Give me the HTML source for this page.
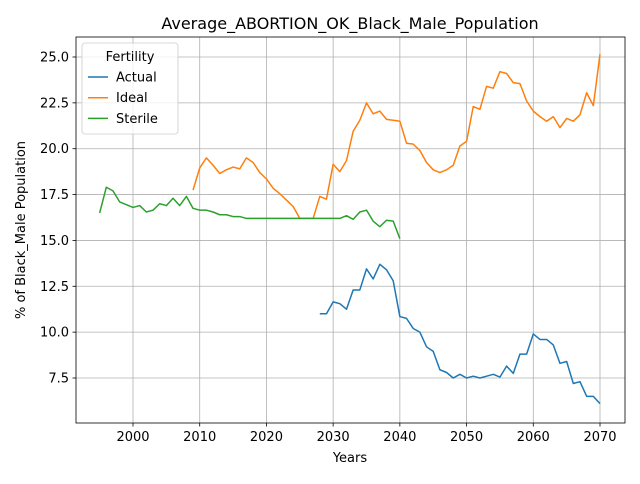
<!DOCTYPE html>
<html><head><meta charset="utf-8"><style>
body{margin:0;background:#fff;font-family:"DejaVu Sans","Liberation Sans",sans-serif}
</style></head><body>
<svg id="c" width="640" height="480" xmlns="http://www.w3.org/2000/svg" font-family="DejaVu Sans, Liberation Sans, sans-serif">
<rect width="640" height="480" fill="#fff"/>
<g id="grid"></g><g id="series"></g><g id="axes"></g>
</svg>
<script>
const xTicks=[2000,2010,2020,2030,2040,2050,2060,2070];
const yTicks=[7.5,10.0,12.5,15.0,17.5,20.0,22.5,25.0];
const actualStart=2028;
const actualValues=[11.0,11.0,11.65,11.55,11.25,12.3,12.3,13.45,12.9,13.7,13.4,12.8,10.85,10.75,10.2,10.0,9.2,8.95,7.95,7.8,7.5,7.7,7.5,7.6,7.5,7.6,7.7,7.55,8.15,7.75,8.8,8.8,9.9,9.6,9.6,9.3,8.3,8.4,7.2,7.3,6.5,6.5,6.1];
const idealStart=2009;
const idealValues=[17.75,18.95,19.5,19.1,18.65,18.85,19.0,18.9,19.5,19.25,18.7,18.35,17.85,17.55,17.2,16.85,16.2,16.2,16.2,17.4,17.25,19.15,18.75,19.35,20.95,21.55,22.5,21.9,22.05,21.6,21.55,21.5,20.3,20.25,19.9,19.25,18.85,18.7,18.85,19.1,20.15,20.4,22.3,22.15,23.4,23.3,24.2,24.1,23.6,23.55,22.6,22.05,21.75,21.5,21.75,21.15,21.65,21.5,21.85,23.05,22.35,25.15];
const sterileStart=1995;
const sterileValues=[16.5,17.9,17.7,17.1,16.95,16.8,16.9,16.55,16.65,17.0,16.9,17.3,16.9,17.4,16.75,16.65,16.65,16.55,16.4,16.4,16.3,16.3,16.2,16.2,16.2,16.2,16.2,16.2,16.2,16.2,16.2,16.2,16.2,16.2,16.2,16.2,16.2,16.35,16.15,16.55,16.65,16.05,15.75,16.1,16.05,15.1];
const L=76,R=625,T=37,B=423;
const x=v=>133+(v-2000)*(600-133)/70;
const y=v=>57+(25-v)*(378-57)/17.5;
const NS="http://www.w3.org/2000/svg";
function mk(p,t,a){const e=document.createElementNS(NS,t);for(const k in a)e.setAttribute(k,a[k]);p.appendChild(e);return e;}
const g=document.getElementById('grid'),s=document.getElementById('series'),ax=document.getElementById('axes');
xTicks.forEach(t=>{
 const l=mk(g,'line',{x1:x(t),x2:x(t),y1:T,y2:B,stroke:'#b0b0b0','stroke-width':0.8});
 
 
 mk(ax,'line',{x1:x(t),x2:x(t),y1:B,y2:B+3.5,stroke:'#000','stroke-width':0.8});
 const tx=mk(ax,'text',{x:x(t),y:B+18,'font-size':13,'text-anchor':'middle'});tx.textContent=t;
 
 
});
yTicks.forEach(t=>{
 const l=mk(g,'line',{x1:L,x2:R,y1:y(t),y2:y(t),stroke:'#b0b0b0','stroke-width':0.8});
 
 
 mk(ax,'line',{x1:L-3.5,x2:L,y1:y(t),y2:y(t),stroke:'#000','stroke-width':0.8});
 const tx=mk(ax,'text',{x:L-7,y:y(t)+4.5,'font-size':13,'text-anchor':'end'});tx.textContent=t.toFixed(1);
 
 
});
function line(start,vals,col,name){
 const p=mk(s,'polyline',{points:vals.map((v,i)=>x(start+i)+','+y(v)).join(' '),fill:'none',stroke:col,'stroke-width':1.5,'stroke-linejoin':'round'});
 
 
}
line(actualStart,actualValues,'#1f77b4','actual-line');
line(idealStart,idealValues,'#ff7f0e','ideal-line');
line(sterileStart,sterileValues,'#2ca02c','sterile-line');
const fr=mk(ax,'rect',{x:L,y:T,width:R-L,height:B-T,fill:'none',stroke:'#000','stroke-width':0.8});


const ti=mk(ax,'text',{x:350,y:29,'font-size':16,'text-anchor':'middle'});ti.textContent='Average_ABORTION_OK_Black_Male_Population';


const xl=mk(ax,'text',{x:350,y:462,'font-size':13,'text-anchor':'middle'});xl.textContent='Years';


const yl=mk(ax,'text',{x:0,y:0,'font-size':13,'text-anchor':'middle',transform:'translate(25,230) rotate(-90)'});yl.textContent='% of Black_Male Population';


const lg=mk(ax,'g',{});


mk(lg,'rect',{x:82,y:43,width:96,height:91,rx:3,fill:'#fff','fill-opacity':0.8,stroke:'#ccc','stroke-width':0.8});
const lt=mk(lg,'text',{x:130,y:61,'font-size':13,'text-anchor':'middle'});lt.textContent='Fertility';
[['Actual','#1f77b4'],['Ideal','#ff7f0e'],['Sterile','#2ca02c']].forEach((d,i)=>{
 const yy=77+i*20.7;
 const e=mk(lg,'g',{});
 
 
 mk(e,'line',{x1:88,x2:108,y1:yy,y2:yy,stroke:d[1],'stroke-width':1.5});
 const t=mk(e,'text',{x:116,y:yy+4.5,'font-size':13});t.textContent=d[0];
});
</script>
</body></html>
